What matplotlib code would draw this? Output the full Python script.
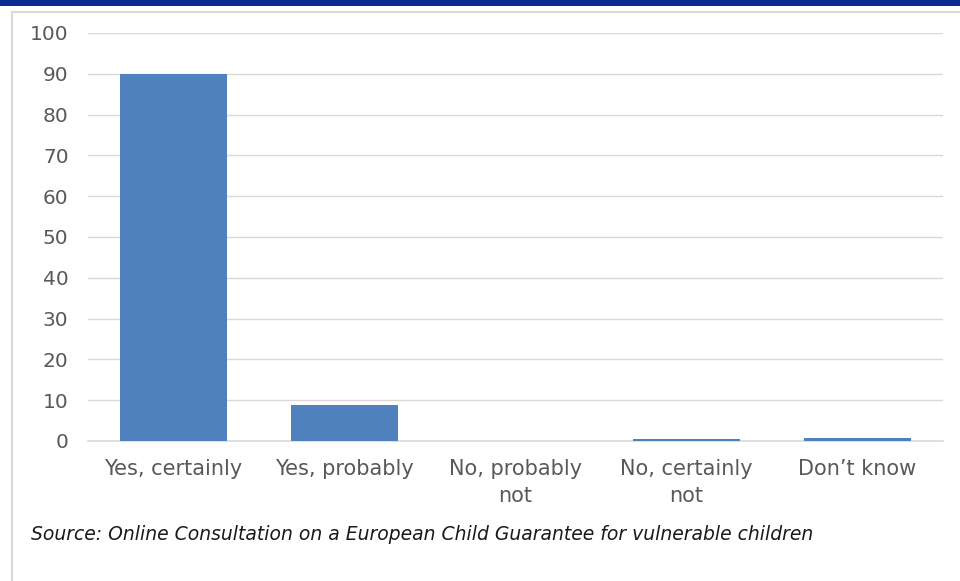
import matplotlib.pyplot as plt
from matplotlib.lines import Line2D
from matplotlib.patches import Rectangle

plt.rcParams["font.family"] = ["DejaVu Sans"]

categories = ["Yes, certainly", "Yes, probably", "No, probably\nnot", "No, certainly\nnot", "Don\u2019t know"]
values = [90, 8.8, 0, 0.4, 0.8]
y_ticks = [0, 10, 20, 30, 40, 50, 60, 70, 80, 90, 100]
source = "Source: Online Consultation on a European Child Guarantee for vulnerable children"

W, H = 960, 581
fig = plt.figure(figsize=(W / 100, H / 100), dpi=100)
fig.patch.set_facecolor("white")

# dark header strip at the very top
fig.add_artist(Rectangle((0, 1 - 6 / H), 1, 6 / H, transform=fig.transFigure,
                         facecolor="#0b2a92", edgecolor="none"))

# light frame around the chart
frame = "#d9d9d9"
fig.add_artist(Line2D([12 / W, 1], [1 - 12 / H, 1 - 12 / H], transform=fig.transFigure,
                      color=frame, lw=1.5))
fig.add_artist(Line2D([12 / W, 12 / W], [0, 1 - 12 / H], transform=fig.transFigure,
                      color=frame, lw=1.5))

ax = fig.add_axes([88 / W, (H - 441) / H, (943 - 88) / W, (441 - 33) / H])
x = range(len(categories))
ax.bar(x, values, width=0.625, color="#4f81bd", zorder=3)

ax.set_xlim(-0.5, len(categories) - 0.5)
ax.set_ylim(0, 100)
ax.set_yticks(y_ticks)
ax.set_xticks(list(x))
ax.set_xticklabels(categories, linespacing=1.45)

for s in ax.spines.values():
    s.set_visible(False)
ax.grid(axis="y", color="#d9d9d9", lw=1.0, zorder=0)
# baseline drawn unclipped so it isn't cut in half at the axes edge
ax.axhline(0, color="#d9d9d9", lw=1.2, zorder=2, clip_on=False)
ax.tick_params(axis="both", length=0, colors="#595959")
ax.tick_params(axis="y", pad=14, labelsize=14.5)
ax.tick_params(axis="x", pad=13, labelsize=15)

fig.text(31 / W, 1 - 535 / H, source, fontsize=13.5, style="italic",
         color="#1a1a1a", va="center", ha="left")

fig.savefig("out.png", dpi=100)
